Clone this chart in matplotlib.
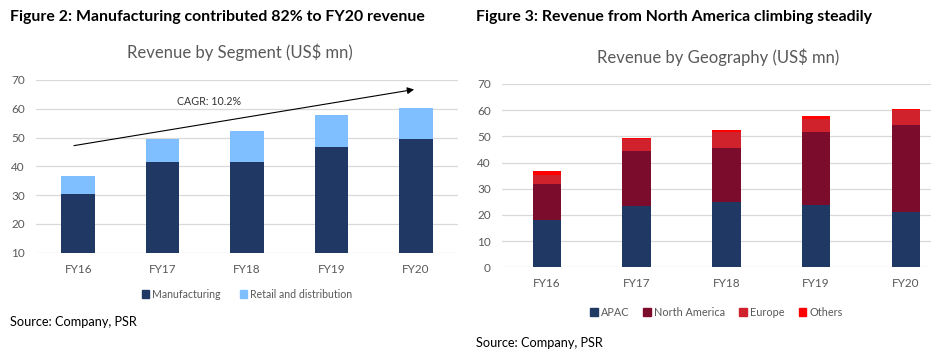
import matplotlib

matplotlib.use("Agg")
import matplotlib.pyplot as plt
import numpy as np
from matplotlib.patches import Patch

plt.rcParams["font.family"] = ["Lato", "DejaVu Sans"]

years = ["FY16", "FY17", "FY18", "FY19", "FY20"]

# Figure 2: revenue by segment
manufacturing = [30.4, 41.6, 41.4, 46.8, 49.4]
retail = [6.4, 7.9, 11.0, 11.1, 10.8]
cagr_label = "CAGR: 10.2%"

# Figure 3: revenue by geography
apac = [18.1, 23.4, 24.8, 23.7, 21.2]
north_america = [13.9, 21.1, 20.9, 27.8, 33.2]
europe = [3.1, 4.5, 6.0, 5.1, 5.7]
others = [1.8, 0.5, 0.7, 1.3, 0.2]

NAVY = "#1f3864"
LIGHT_BLUE = "#80bfff"
MAROON = "#7b0c2b"
RED = "#d0222d"
BRIGHT_RED = "#ff0000"
GREY = "#595959"
GRID = "#d9d9d9"

W, H = 944, 356
fig = plt.figure(figsize=(W / 100, H / 100), dpi=100)


def px_axes(left, top, right, bottom):
    return fig.add_axes([left / W, 1 - bottom / H, (right - left) / W, (bottom - top) / H])


def style(ax, ymin, ymax):
    ax.set_ylim(ymin, ymax)
    ax.set_yticks(range(ymin, ymax + 1, 10))
    for s in ax.spines.values():
        s.set_visible(False)
    ax.yaxis.grid(True, color=GRID, lw=0.9)
    ax.set_axisbelow(True)
    ax.tick_params(length=0, colors=GREY, labelsize=8.5)
    ax.tick_params(axis="y", pad=8)
    ax.tick_params(axis="x", pad=8)


x = np.arange(len(years))

# ---- left chart
ax1 = px_axes(36, 80, 458, 252.7)
ax1.bar(x, np.array(manufacturing) - 10, 0.4, bottom=10, color=NAVY)
ax1.bar(x, retail, 0.4, bottom=manufacturing, color=LIGHT_BLUE)
style(ax1, 10, 70)
ax1.set_xlim(-0.5, 4.5)
ax1.set_xticks(x, years)
ax1.annotate("", xy=(3.98, 66.7), xytext=(-0.05, 47.2),
             arrowprops=dict(arrowstyle="-|>", color="black", lw=0.8,
                             mutation_scale=10, shrinkA=0, shrinkB=0))
ax1.text(1.55, 62.6, cagr_label, ha="center", va="center", fontsize=7.7, color="#333333")
ax1.legend(handles=[Patch(color=NAVY, label="Manufacturing"),
                    Patch(color=LIGHT_BLUE, label="Retail and distribution")],
           loc="center", bbox_to_anchor=(0.5, -0.24), ncol=2, frameon=False,
           fontsize=7.6, labelcolor=GREY, handlelength=0.7, handleheight=0.7,
           handletextpad=0.3, columnspacing=1.8)

# ---- right chart
ax2 = px_axes(502, 84, 931, 267.3)
bottom = np.zeros(len(years))
for vals, col in [(apac, NAVY), (north_america, MAROON), (europe, RED), (others, BRIGHT_RED)]:
    ax2.bar(x, vals, 0.32, bottom=bottom, color=col)
    bottom += np.array(vals)
style(ax2, 0, 70)
ax2.set_xlim(-0.5, 4.28)
ax2.set_xticks(x, years)
ax2.legend(handles=[Patch(color=NAVY, label="APAC"),
                    Patch(color=MAROON, label="North America"),
                    Patch(color=RED, label="Europe"),
                    Patch(color=BRIGHT_RED, label="Others")],
           loc="center", bbox_to_anchor=(0.5, -0.245), ncol=4, frameon=False,
           fontsize=7.8, labelcolor=GREY, handlelength=0.7, handleheight=0.7,
           handletextpad=0.3, columnspacing=1.3)

# ---- titles and sources
fig.text(10 / W, 1 - 17 / H, "Figure 2: Manufacturing contributed 82% to FY20 revenue",
         fontsize=11.4, fontweight="bold", va="center", ha="left")
fig.text(476 / W, 1 - 17 / H, "Figure 3: Revenue from North America climbing steadily",
         fontsize=11.4, fontweight="bold", va="center", ha="left")
fig.text(240 / W, 1 - 52 / H, "Revenue by Segment (US$ mn)", fontsize=12,
         color=GREY, ha="center", va="center")
fig.text(718 / W, 1 - 57 / H, "Revenue by Geography (US$ mn)", fontsize=12,
         color=GREY, ha="center", va="center")
fig.text(10 / W, 1 - 322 / H, "Source: Company, PSR", fontsize=9.2, va="center", ha="left")
fig.text(476 / W, 1 - 343 / H, "Source: Company, PSR", fontsize=9.2, va="center", ha="left")

fig.savefig("out.png", dpi=100)
